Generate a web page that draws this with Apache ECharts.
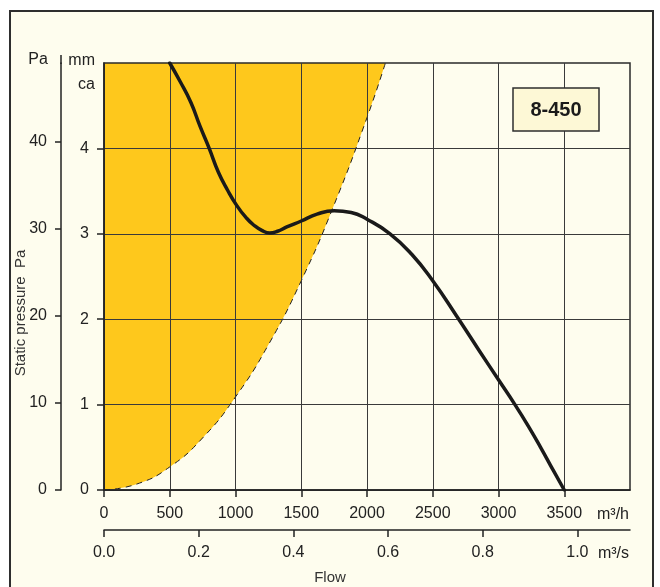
<!DOCTYPE html>
<html><head><meta charset="utf-8">
<script src="https://cdn.jsdelivr.net/npm/echarts@6/dist/echarts.min.js"></script>
<style>html,body{margin:0;padding:0;background:#fff}#c{width:660px;height:587px}</style>
</head><body><div id="c"></div><script>
// Flow axis ticks (m3/h) and (m3/s)
const flowTicksM3h = [0, 500, 1000, 1500, 2000, 2500, 3000, 3500];
const flowTicksM3s = [0, 0.2, 0.4, 0.6, 0.8, 1.0];
const pressTicksMm = [0, 1, 2, 3, 4];
const pressTicksPa = [0, 10, 20, 30, 40];

// Fan curve: flow (m3/h) vs static pressure (mm ca)
const fanFlow = [500, 580, 660, 730, 800, 870, 940, 1010, 1080, 1140, 1200, 1260, 1320, 1390, 1500, 1620, 1750, 1880, 2000, 2175, 2340, 2500, 2680, 2850, 3000, 3125, 3230, 3320, 3420, 3500];
const fanPress = [5.0, 4.78, 4.54, 4.26, 4.0, 3.72, 3.51, 3.33, 3.19, 3.10, 3.04, 3.01, 3.03, 3.08, 3.15, 3.23, 3.27, 3.25, 3.17, 3.0, 2.76, 2.45, 2.04, 1.64, 1.29, 1.0, 0.74, 0.5, 0.22, 0];

// System (shaded limit) curve
const sysFlow = [0, 250, 500, 750, 1000, 1250, 1500, 1750, 2000, 2140];
const sysPress = [0, 0.07, 0.27, 0.61, 1.09, 1.70, 2.45, 3.34, 4.36, 5.0];

const FONT = "'Liberation Sans', Arial, sans-serif";
const ink = '#222';
const chart = echarts.init(document.getElementById('c'), null, {renderer: 'canvas'});

const zip = (a, b) => a.map((v, i) => [v, b[i]]);

chart.setOption({
  backgroundColor: '#ffffff',
  animation: false,
  grid: {left: 104, top: 63, right: 30, bottom: 97, show: true, borderColor: '#2a2a2a', borderWidth: 1.5, backgroundColor: 'transparent', z: 0},
  xAxis: [
    {
      type: 'value', min: 0, max: 4000, interval: 500, position: 'bottom',
      axisLine: {show: true, onZero: false, lineStyle: {color: ink, width: 1.5}},
      axisTick: {show: true, length: 7, customValues: flowTicksM3h, lineStyle: {color: ink, width: 1.5}},
      axisLabel: {customValues: flowTicksM3h, margin: 16, color: ink, fontSize: 16, fontFamily: FONT,
        formatter: v => String(v)},
      splitLine: {show: true, lineStyle: {color: '#3a3a3a', width: 1}}
    },
    {
      type: 'value', min: 0, max: 4000 / 3600, position: 'bottom', offset: 40,
      axisLine: {show: true, onZero: false, lineStyle: {color: ink, width: 1.5}},
      axisTick: {show: true, length: 7, customValues: flowTicksM3s, lineStyle: {color: ink, width: 1.5}},
      axisLabel: {customValues: flowTicksM3s, margin: 15, color: ink, fontSize: 16, fontFamily: FONT,
        formatter: v => v.toFixed(1)},
      splitLine: {show: false}
    }
  ],
  yAxis: [
    {
      type: 'value', min: 0, max: 5, interval: 1, position: 'left',
      axisLine: {show: true, onZero: false, lineStyle: {color: ink, width: 1.5}},
      axisTick: {show: true, length: 7, customValues: pressTicksMm, lineStyle: {color: ink, width: 1.5}},
      axisLabel: {customValues: pressTicksMm, margin: 15, color: ink, fontSize: 16, fontFamily: FONT},
      splitLine: {show: true, lineStyle: {color: '#3a3a3a', width: 1}}
    },
    {
      type: 'value', min: 0, max: 5 * 9.81, position: 'left', offset: 43,
      axisLine: {show: true, onZero: false, lineStyle: {color: ink, width: 1.5}},
      axisTick: {show: true, length: 6, customValues: pressTicksPa, lineStyle: {color: ink, width: 1.5}},
      axisLabel: {customValues: pressTicksPa, margin: 14, color: ink, fontSize: 16, fontFamily: FONT},
      splitLine: {show: false}
    }
  ],
  series: [
    {
      type: 'line', xAxisIndex: 0, yAxisIndex: 0, z: -1,
      data: zip(sysFlow, sysPress), smooth: true, symbol: 'none',
      lineStyle: {color: '#222', width: 1, type: [6, 5]},
      areaStyle: {origin: 'end', color: '#FEC81C', opacity: 1}
    },
    {
      type: 'line', xAxisIndex: 0, yAxisIndex: 0, z: 3,
      data: zip(fanFlow, fanPress), smooth: 0.5, symbol: 'none',
      lineStyle: {color: '#1a1a1a', width: 3.5, cap: 'round', join: 'round'}
    }
  ],
  graphic: {elements: [
    {type: 'rect', z: -10, shape: {x: 10, y: 11, width: 643, height: 620}, style: {fill: '#FEFDEE', stroke: '#2e2e2e', lineWidth: 2}},
    {type: 'line', z: 5, shape: {x1: 61, y1: 55, x2: 61, y2: 64}, style: {stroke: ink, lineWidth: 1.5}},
    {type: 'rect', z: 10, shape: {x: 513, y: 88, width: 86, height: 43}, style: {fill: '#FDF8D6', stroke: '#2e2e2e', lineWidth: 1.5}},
    {type: 'text', z: 11, x: 556, y: 110, style: {text: '8-450', fontFamily: FONT, fontWeight: 'bold', fontSize: 20, fill: '#1a1a1a', align: 'center', verticalAlign: 'middle'}},
    {type: 'text', z: 11, x: 38, y: 60, style: {text: 'Pa', fontFamily: FONT, fontSize: 16, fill: ink, align: 'center', verticalAlign: 'middle'}},
    {type: 'text', z: 11, x: 95, y: 61, style: {text: 'mm', fontFamily: FONT, fontSize: 16, fill: ink, align: 'right', verticalAlign: 'middle'}},
    {type: 'text', z: 11, x: 95, y: 85, style: {text: 'ca', fontFamily: FONT, fontSize: 16, fill: ink, align: 'right', verticalAlign: 'middle'}},
    {type: 'text', z: 11, x: 629, y: 515, style: {text: 'm³/h', fontFamily: FONT, fontSize: 16, fill: ink, align: 'right', verticalAlign: 'middle'}},
    {type: 'text', z: 11, x: 629, y: 554, style: {text: 'm³/s', fontFamily: FONT, fontSize: 16, fill: ink, align: 'right', verticalAlign: 'middle'}},
    {type: 'text', z: 11, x: 330, y: 578, style: {text: 'Flow', fontFamily: FONT, fontSize: 15, fill: '#333', align: 'center', verticalAlign: 'middle'}},
    {type: 'text', z: 11, x: 21, y: 313, rotation: Math.PI / 2, style: {text: 'Static pressure  Pa', fontFamily: FONT, fontSize: 15, fill: '#333', align: 'center', verticalAlign: 'middle'}}
  ]}
});
</script></body></html>
